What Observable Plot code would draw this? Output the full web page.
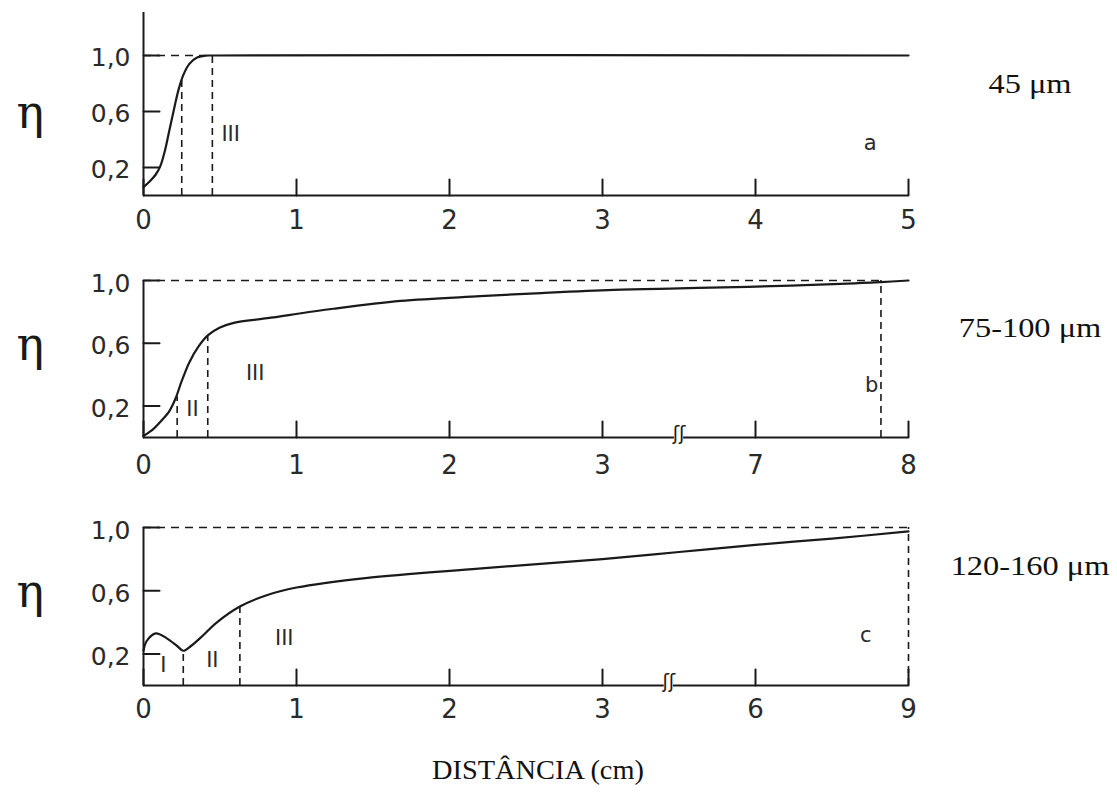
<!DOCTYPE html>
<html>
<head>
<meta charset="utf-8">
<script src="https://cdn.jsdelivr.net/npm/d3@7"></script>
<script src="https://cdn.jsdelivr.net/npm/@observablehq/plot@0.6"></script>
<style>
  html, body { margin: 0; padding: 0; background: #fff; }
  #chart { position: relative; width: 1117px; height: 794px; overflow: hidden; }
  #chart svg { position: absolute; left: 0; overflow: visible; }
  .size, .caption {
    position: absolute; font-family: "Liberation Serif", serif; color: #111;
    white-space: nowrap; transform-origin: center center;
  }
  .size { font-size: 27px; transform: translate(-50%, -50%) scaleX(1.2); }
  .caption { font-size: 27px; transform: translate(-50%, 0) scaleX(1.05); }
</style>
</head>
<body>
<div id="chart"></div>
<script>
// ---- tick values along each distance axis (cm) ----
const ticksA = [0, 1, 2, 3, 4, 5];
const ticksB = [0, 1, 2, 3, 7, 8];
const ticksC = [0, 1, 2, 3, 6, 9];
const etaTicks = [0.2, 0.6, 1.0];

// ---- efficiency curves η(distance) ----
const distA = [0, 0.04, 0.08, 0.11, 0.14, 0.17, 0.2, 0.23, 0.26, 0.3, 0.35, 0.4, 0.45, 5];
const etaA  = [0.06, 0.1, 0.15, 0.21, 0.32, 0.47, 0.62, 0.76, 0.86, 0.94, 0.985, 0.998, 1.0, 1.0];

const distB = [0, 0.06, 0.12, 0.17, 0.21, 0.25, 0.3, 0.36, 0.42, 0.5, 0.59, 0.81, 1.24, 1.68, 2.2, 2.6, 3.28, 5.0, 6.8, 7.6, 7.82, 8];
const etaB  = [0.01, 0.05, 0.11, 0.17, 0.25, 0.36, 0.48, 0.58, 0.65, 0.7, 0.73, 0.76, 0.82, 0.87, 0.9, 0.92, 0.94, 0.95, 0.96, 0.98, 0.99, 1.0];

const distC = [0, 0.02, 0.08, 0.15, 0.22, 0.26, 0.31, 0.37, 0.48, 0.63, 0.8, 1.0, 1.45, 2.19, 3, 4.5, 6, 7.5, 9];
const etaC  = [0.22, 0.28, 0.33, 0.3, 0.25, 0.22, 0.25, 0.3, 0.4, 0.5, 0.57, 0.62, 0.68, 0.74, 0.8, 0.845, 0.89, 0.93, 0.975];

// ---- region boundaries (distance, η where the dashed line stops) ----
const boundsA = [{x: 0.25, y: 0.83}, {x: 0.45, y: 1.0}];
const boundsB = [{x: 0.22, y: 0.26}, {x: 0.42, y: 0.65}, {x: 7.82, y: 1.0}];
const boundsC = [{x: 0.26, y: 0.22}, {x: 0.63, y: 0.5}, {x: 9, y: 1.0}];
const topDashEnd = {a: 0.45, b: 7.82, c: 9};

// ---- region / panel labels ----
const labelsA = [{x: 0.57, y: 0.44, t: "III"}, {x: 4.75, y: 0.37, t: "a"}];
const labelsB = [{x: 0.32, y: 0.18, t: "II"}, {x: 0.73, y: 0.41, t: "III"}, {x: 7.76, y: 0.33, t: "b"}];
const labelsC = [{x: 0.13, y: 0.13, t: "I"}, {x: 0.45, y: 0.16, t: "II"}, {x: 0.92, y: 0.3, t: "III"}, {x: 8.16, y: 0.32, t: "c"}];

// ---- particle size classes ----
const sizes = ["45 μm", "75-100 μm", "120-160 μm"];

// distance -> position on the (broken) axis: each tick is one step
const posA = d3.scaleLinear().domain([0, 5]).range([0, 5]);
const posB = d3.scaleLinear().domain([0, 3, 7, 8]).range([0, 3, 4, 5]);
const posC = d3.scaleLinear().domain([0, 3, 6, 9]).range([0, 3, 4, 5]);

const ink = "#1a1a1a";
const sans = "DejaVu Sans, sans-serif";
const tickShape = {draw(ctx, l) { ctx.moveTo(0, 0); ctx.lineTo(0, -l); }};
const fmtEta = d => d.toFixed(1).replace(".", ",");

function panel({top, height, marginTop, marginBottom, yMax, pos, ticks, dist, eta, bounds, dashEnd, labels, brk, labelDy}) {
  const curve = dist.map((x, i) => ({x, y: eta[i]}));
  const gap = 0.03;
  const baseline = brk === undefined
    ? [{x1: 0, x2: pos.invert(5)}]
    : [{x1: 0, x2: pos.invert(pos(brk) - gap)}, {x1: pos.invert(pos(brk) + gap), x2: pos.invert(5)}];
  const svg = Plot.plot({
    width: 1117, height, marginLeft: 143, marginRight: 209, marginTop, marginBottom,
    style: {fontFamily: sans, background: "transparent", color: ink},
    x: {domain: [0, 5], axis: null},
    y: {domain: [0, yMax], axis: null},
    marks: [
      // dashed guides
      Plot.ruleY([1], {x1: 0, x2: pos(dashEnd), stroke: ink, strokeWidth: 1.6, strokeDasharray: "8,6"}),
      Plot.ruleX(bounds, {x: d => pos(d.x), y1: 0, y2: "y", stroke: ink, strokeWidth: 1.6, strokeDasharray: "7,5"}),
      // axes
      Plot.ruleX([0], {stroke: ink, strokeWidth: 2}),
      Plot.ruleY(baseline, {y: 0, x1: d => pos(d.x1), x2: d => pos(d.x2), stroke: ink, strokeWidth: 2}),
      Plot.vector(ticks, {x: d => pos(d), y: 0, length: 16, rotate: 0, anchor: "start", shape: tickShape, stroke: ink, strokeWidth: 2}),
      Plot.vector(etaTicks, {x: 0, y: d => d, length: 16, rotate: 90, anchor: "start", shape: tickShape, stroke: ink, strokeWidth: 2}),
      brk === undefined ? null :
        Plot.text([brk], {x: d => pos(d), y: 0, dy: -4, text: () => "ʃʃ", fontSize: 19, fill: ink}),
      // tick labels
      Plot.text(ticks, {x: d => pos(d), frameAnchor: "bottom", dy: labelDy, text: d => String(d), fontSize: 26, fill: "#2a2a2a"}),
      Plot.text(etaTicks, {y: d => d, frameAnchor: "left", dx: -13, dy: 3, textAnchor: "end", text: fmtEta, fontSize: 25, fill: "#2a2a2a"}),
      Plot.text([0.6], {y: d => d, frameAnchor: "left", dx: -127, dy: 2, text: () => "η", fontSize: 46, fontFamily: "DejaVu Serif, serif", fill: ink}),
      // curve
      Plot.line(curve, {x: d => pos(d.x), y: "y", curve: "catmull-rom", stroke: ink, strokeWidth: 2.2}),
      // region labels
      Plot.text(labels, {x: d => pos(d.x), y: "y", text: "t", fontSize: 21, fill: "#2a2a2a"})
    ]
  });
  svg.style.top = top + "px";
  return svg;
}

const chart = document.getElementById("chart");
chart.append(
  panel({top: 0, height: 250, marginTop: 12, marginBottom: 55, yMax: 1.307, pos: posA, ticks: ticksA,
         dist: distA, eta: etaA, bounds: boundsA, dashEnd: topDashEnd.a, labels: labelsA, labelDy: 33}),
  panel({top: 250, height: 240, marginTop: 30, marginBottom: 53, yMax: 1.0, pos: posB, ticks: ticksB,
         dist: distB, eta: etaB, bounds: boundsB, dashEnd: topDashEnd.b, labels: labelsB, brk: 5, labelDy: 36}),
  panel({top: 490, height: 245, marginTop: 37, marginBottom: 50, yMax: 1.0, pos: posC, ticks: ticksC,
         dist: distC, eta: etaC, bounds: boundsC, dashEnd: topDashEnd.c, labels: labelsC, brk: 4.3, labelDy: 32})
);

// size class beside each panel, and the shared distance caption
const sizeCenters = [84, 328, 566];
sizes.forEach((s, i) => {
  const d = document.createElement("div");
  d.className = "size";
  d.textContent = s;
  d.style.left = "1030px";
  d.style.top = sizeCenters[i] + "px";
  chart.append(d);
});
const cap = document.createElement("div");
cap.className = "caption";
cap.textContent = "DISTÂNCIA (cm)";
cap.style.left = "538px";
cap.style.top = "755px";
chart.append(cap);
</script>
</body>
</html>
